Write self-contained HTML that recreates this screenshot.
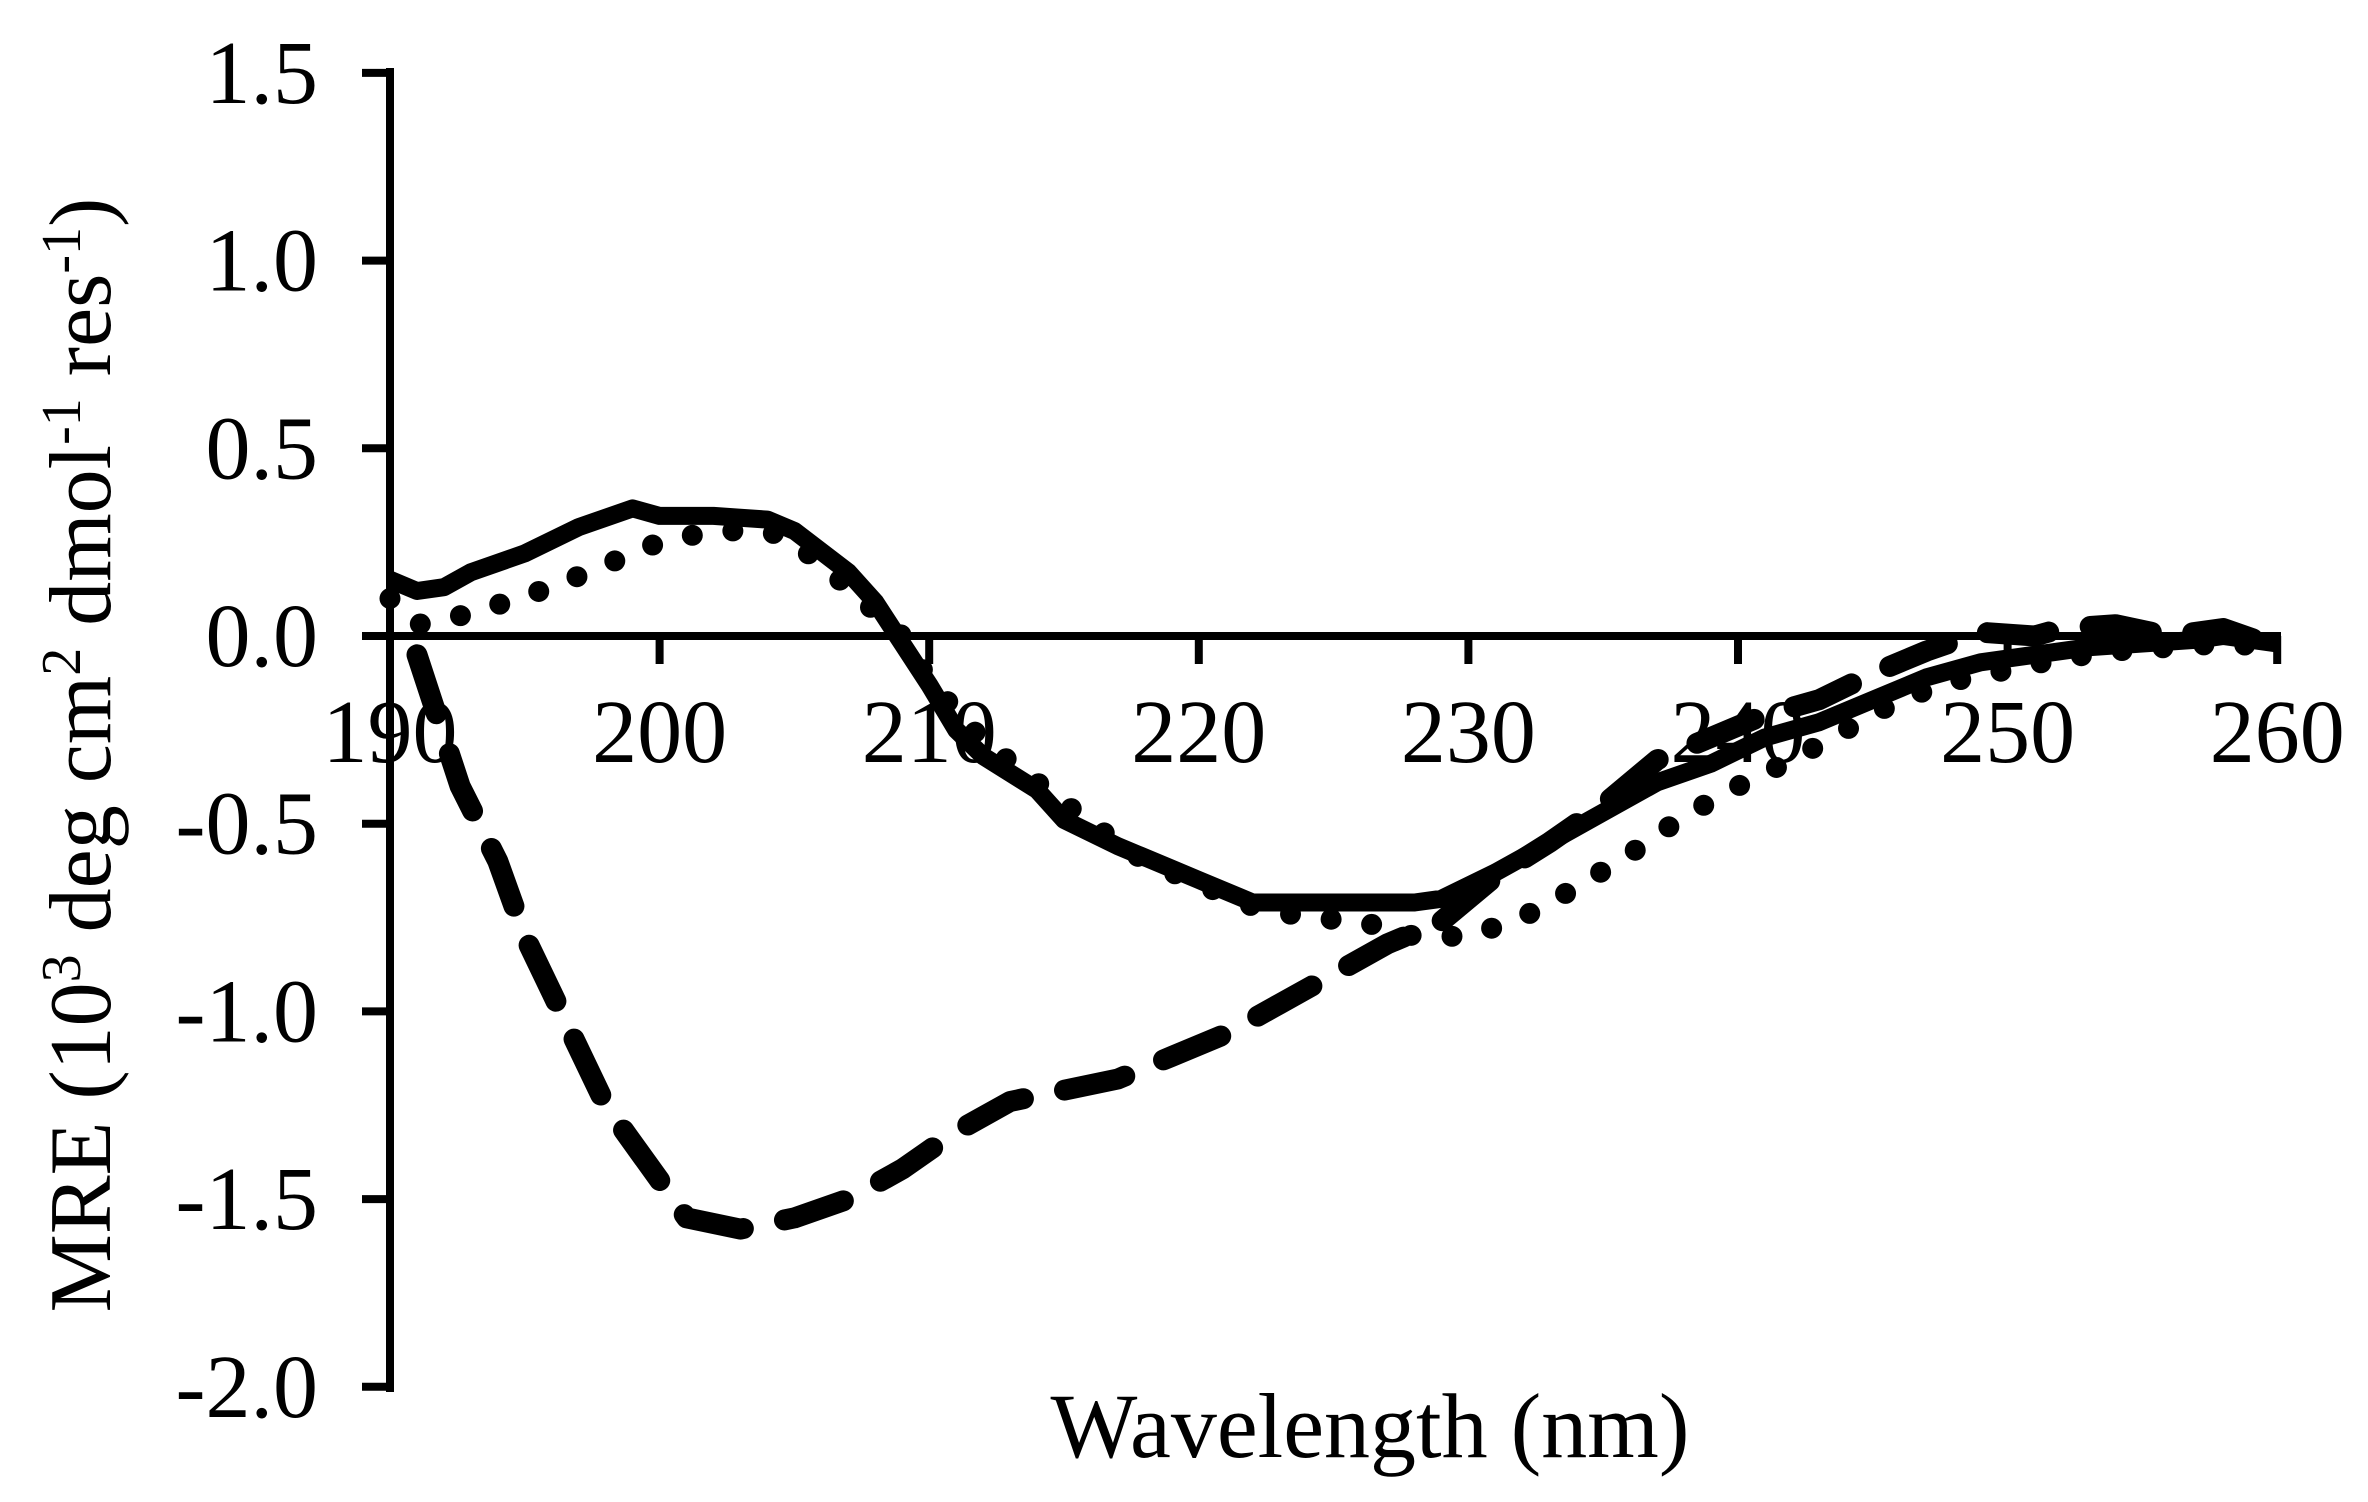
<!DOCTYPE html>
<html><head><meta charset="utf-8"><style>
html,body{margin:0;padding:0;background:#fff;}
svg{display:block;}
text{font-family:"Liberation Serif",serif;fill:#000;}
</style></head><body>
<svg id="s" width="2368" height="1502" xmlns="http://www.w3.org/2000/svg">
<g id="g"></g>
</svg>
<script>
const X=x=>390+(x-190)*26.96, Y=y=>636-y*375.4;
const g=document.getElementById('g');
let h='';
h+=`<line x1="390" y1="68" x2="390" y2="1392" stroke="#000" stroke-width="8"/>`;
h+=`<line x1="386" y1="636" x2="2281" y2="636" stroke="#000" stroke-width="8"/>`;
for(let i=0;i<=7;i++){const v=-2+i*0.5;const y=Y(v);h+=`<line x1="362" y1="${y}" x2="390" y2="${y}" stroke="#000" stroke-width="8"/>`;
h+=`<text x="318" y="${y+30}" font-size="90" text-anchor="end">${v.toFixed(1)}</text>`;}
for(let x=190;x<=260;x+=10){const xx=X(x);h+=`<line x1="${xx}" y1="636" x2="${xx}" y2="664" stroke="#000" stroke-width="8"/>`;
h+=`<text x="${xx}" y="762" font-size="90" text-anchor="middle">${x}</text>`;}
h+=`<text x="1370" y="1457" font-size="92" text-anchor="middle">Wavelength (nm)</text>`;
h+=`<text transform="translate(110,755) rotate(-90)" font-size="88" text-anchor="middle">MRE (10<tspan font-size="56" dy="-30">3</tspan><tspan dy="30"> deg cm</tspan><tspan font-size="56" dy="-30">2</tspan><tspan dy="30"> dmol</tspan><tspan font-size="56" dy="-30">-1</tspan><tspan dy="30"> res</tspan><tspan font-size="56" dy="-30">-1</tspan><tspan dy="30">)</tspan></text>`;
const P=a=>a.map(p=>X(p[0]).toFixed(1)+','+Y(p[1]).toFixed(1)).join(' ');
const solid=[[190,0.15],[191,0.12],[192,0.13],[193,0.17],[195,0.22],[197,0.29],[199,0.34],[200,0.32],[202,0.32],[204,0.31],[205,0.28],[207,0.17],[208,0.09],[209,-0.02],[210,-0.13],[211,-0.25],[212,-0.32],[214,-0.41],[215,-0.49],[217,-0.56],[219,-0.62],[220,-0.65],[222,-0.71],[224,-0.71],[226,-0.71],[228,-0.71],[229,-0.70],[231,-0.63],[233,-0.55],[235,-0.47],[237,-0.39],[239,-0.34],[241,-0.27],[243,-0.23],[245,-0.17],[247,-0.11],[249,-0.07],[251,-0.05],[253,-0.03],[255,-0.02],[257,-0.01],[258,0.0],[260,-0.02]];
const dot=[[190,0.1],[191,0.03],[193,0.06],[196,0.13],[198,0.19],[200,0.25],[202,0.28],[204,0.28],[205,0.25],[207,0.13],[209,0.0],[210,-0.12],[212,-0.28],[214,-0.39],[216,-0.5],[218,-0.6],[220,-0.66],[222,-0.72],[224,-0.75],[226,-0.76],[228,-0.8],[230,-0.8],[232,-0.75],[234,-0.67],[236,-0.58],[238,-0.48],[240,-0.40],[242,-0.33],[244,-0.25],[246,-0.17],[248,-0.12],[250,-0.09],[252,-0.06],[254,-0.04],[256,-0.03],[258,-0.02],[260,-0.03]];
const dash=[[191,-0.05],[192.6,-0.4],[194,-0.6],[195,-0.8],[196,-0.95],[198,-1.25],[200,-1.45],[201,-1.55],[203,-1.58],[205,-1.55],[207,-1.5],[209,-1.42],[211,-1.32],[213,-1.24],[215,-1.21],[217,-1.18],[219,-1.12],[221,-1.06],[223,-0.98],[225,-0.9],[227,-0.82],[229,-0.76],[231,-0.64],[233,-0.55],[235,-0.45],[237,-0.33],[239,-0.27],[241,-0.21],[243,-0.17],[245,-0.1],[247,-0.04],[249,0.01],[251,0.0],[252,0.02],[254,0.03],[256,0.0],[258,0.02],[260,-0.03]];
h+=`<polyline points="${P(solid)}" fill="none" stroke="#000" stroke-width="18" stroke-linejoin="round"/>`;
h+=`<polyline points="${P(dot)}" fill="none" stroke="#000" stroke-width="21" stroke-linecap="round" stroke-dasharray="0 41"/>`;
h+=`<polyline points="${P(dash)}" fill="none" stroke="#000" stroke-width="21" stroke-linecap="round" stroke-linejoin="round" stroke-dasharray="62 42"/>`;
g.innerHTML=h;
</script>
</body></html>
